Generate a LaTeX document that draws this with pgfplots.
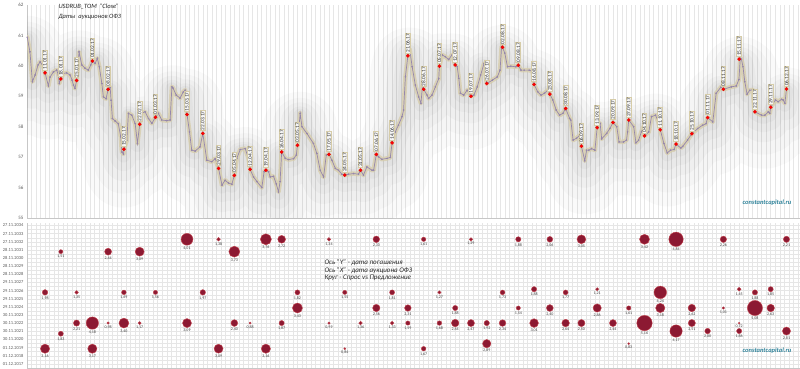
\documentclass[border=0pt]{standalone}
\usepackage{pgfplots}
\pgfplotsset{compat=1.18}
\usepackage{pgfplotstable}
\usepackage{fontspec}
\setmainfont{Carlito}
\definecolor{linec}{RGB}{150,135,172}
\definecolor{glowc}{RGB}{214,204,168}
\definecolor{gridc}{RGB}{230,230,230}
\definecolor{bubf}{RGB}{140,25,50}
\definecolor{bubd}{RGB}{195,65,75}
\definecolor{tealc}{RGB}{49,132,155}
\definecolor{tickc}{RGB}{89,89,89}

\pgfplotstableread{
d v
3.1 60.94
4.3 60.46
5.4 59.48
6.6 59.70
7.9 60.03
8.8 60.13
10.1 60.00
11 59.77
12.5 59.34
13.2 59.63
14.7 59.80
16.2 59.86
16.9 59.70
17.3 59.42
18 59.57
19.1 59.75
20.6 59.77
22.1 59.70
23.0 59.53
23.6 59.37
24.3 59.26
25 59.52
26.1 60.46
27.3 60.03
28.8 59.92
30.2 59.86
31.3 60.03
32 60.16
33.2 60.08
34.2 60.25
35.1 59.97
36.2 59.42
36.9 58.98
38.1 58.92
39 59.23
39.9 59.30
40.3 58.87
40.9 58.27
42.1 58.19
43.5 58.10
44.6 57.67
45.1 57.17
45.8 57.10
46 57.26
47.3 57.56
48.0 58.44
49.5 58.38
51.0 58.10
52.0 57.45
53 58.08
53.9 58.45
55.4 58.49
56.9 58.27
58.4 58.11
60 58.31
61.3 58.44
62.8 58.22
65.0 58.20
66.5 58.22
67.3 59.31
67.8 59.27
69.2 59.04
70.9 58.94
72.3 59.14
73.2 59.20
74 58.40
75.1 57.83
76.1 57.23
77.6 57.20
79.8 57.34
81 57.78
82.8 56.90
85.0 56.85
86.5 56.95
88 56.63
89.5 56.08
90.9 56.24
92.4 56.15
93.9 56.11
95 56.40
96.1 56.96
97.6 57.25
99.8 57.28
101.3 56.96
102 56.60
103.5 56.35
105.0 56.20
107.2 56.00
108.2 56.52
109 56.57
110.2 56.52
110.9 56.35
112.4 56.37
113.6 56.12
114.6 55.86
115.3 56.20
116 57.17
117.6 56.96
119.0 56.92
121.3 56.95
122.5 57.07
123 57.39
124.2 58.44
125.0 58.00
127.2 57.78
130.1 57.45
131.6 57.12
133.1 56.57
134.6 56.35
135.8 57.07
137 57.09
138.3 56.90
139.8 56.63
141.2 56.57
142.7 56.44
144 56.41
145.7 56.44
147.9 56.46
150.1 56.44
151 56.57
152.3 56.41
153.8 56.68
156.1 56.57
156.8 56.57
158 57.09
159.0 57.01
160.5 56.93
162.8 56.96
164.2 56.99
165 57.47
166.4 57.83
167.8 58.05
169.4 58.33
170.1 58.55
170.9 59.64
172 60.33
172.8 60.55
173.9 59.97
175.3 59.37
176.8 58.98
177.8 58.77
178.7 59.53
179 59.23
180.5 59.04
181.2 58.93
182.7 59.04
184.2 59.31
185.7 59.58
186 59.99
187.2 60.36
188.6 60.30
190.1 60.21
191.6 60.36
193 60.03
193.9 59.97
194.6 59.59
195.3 59.10
196.8 59.04
198.3 59.20
200 59.00
201.3 59.04
202.8 59.31
204.3 59.70
205.8 60.08
207 59.42
209.5 59.53
211.7 59.64
212.9 59.86
213.6 60.63
214 60.61
215.0 60.42
216.2 59.97
217.7 59.99
219.9 59.97
221 60.02
222.2 59.86
223.6 59.86
225.8 59.86
227.4 59.81
228 59.39
229.6 59.15
231.1 59.04
232.6 59.10
234.1 59.20
235 59.07
236.3 58.88
237.8 58.55
239.3 58.38
240.8 58.44
241.6 58.55
242 58.60
243.8 58.27
244.3 58.22
245.3 57.56
246.8 57.62
248.3 57.72
249 57.36
250.5 56.88
251.3 57.23
252.3 57.23
253.5 57.28
255.0 57.23
256 57.97
257.3 58.11
258.0 57.60
260.2 57.78
261.7 57.95
263 58.14
264.7 58.00
265.7 57.50
267.7 57.50
269.0 57.56
269.5 57.83
270 58.22
272.2 58.00
273.2 57.47
274.4 57.56
275.6 57.83
276.5 58.00
277 57.70
278.9 57.83
280.1 58.33
281.9 58.38
283.1 58.16
284 57.90
285.6 57.45
287.1 57.14
288.6 57.23
290.1 57.25
291 57.43
293.1 57.30
293.9 57.35
296.1 57.56
298 57.77
300.6 57.94
302.8 58.05
304.3 58.10
305 58.30
307.3 58.16
308.8 59.10
311.0 59.31
312 59.23
315.5 59.31
317.7 59.34
318.9 59.55
319.5 60.25
320 60.22
320.7 59.97
321.5 59.48
322.5 59.07
323.7 59.20
325.0 59.21
325.7 58.60
326 58.49
328.9 58.38
330.4 58.38
331.9 58.49
332.6 58.44
333 58.64
335.1 58.88
336.3 58.82
337.8 58.90
338.5 58.88
339.3 58.77
340 59.24
}\linedata

\pgfplotstableread{
d v lab
11 59.77 11.01.17
18 59.57 18.01.17
25 59.52 25.01.17
32 60.16 01.02.17
39 59.23 08.02.17
46 57.26 15.02.17
53 58.08 22.02.17
60 58.31 01.03.17
74 58.40 15.03.17
81 57.78 22.03.17
88 56.63 29.03.17
95 56.40 05.04.17
102 56.60 12.04.17
109 56.57 19.04.17
116 57.17 26.04.17
123 57.39 03.05.17
137 57.09 17.05.17
144 56.41 24.05.17
151 56.57 31.05.17
158 57.09 07.06.17
165 57.47 14.06.17
172 60.33 21.06.17
179 59.23 28.06.17
186 59.99 05.07.17
193 60.03 12.07.17
200 59.00 19.07.17
207 59.42 26.07.17
214 60.61 02.08.17
221 60.02 09.08.17
228 59.39 16.08.17
235 59.07 23.08.17
242 58.60 30.08.17
249 57.36 06.09.17
256 57.97 13.09.17
263 58.14 20.09.17
270 58.22 27.09.17
277 57.70 04.10.17
284 57.90 11.10.17
291 57.43 18.10.17
298 57.77 25.10.17
305 58.30 01.11.17
312 59.23 08.11.17
319 60.22 15.11.17
326 58.49 22.11.17
333 58.64 29.11.17
340 59.24 06.12.17
}\reddata

\pgfplotstableread{
d v s lab
74 15.31 4.01 4,01
88 15.31 1.38 1,38
109 15.31 3.76 3,76
116 15.31 2.72 2,72
137 15.31 1.34 1,34
158 15.31 2.33 2,33
179 15.31 1.61 1,61
200 15.31 1.29 1,29
221 15.31 1.88 1,88
235 15.31 2.06 2,06
249 15.31 3.05 3,05
277 15.31 3.42 3,42
291 15.31 4.84 4,84
312 15.31 2.26 2,26
340 15.31 2.21 2,21
18 13.79 1.51 1,51
39 13.79 2.44 2,44
53 13.79 3.09 3,09
95 13.79 3.73 3,73
228 9.18 1.88 1,88
256 9.18 1.21 1,21
319 9.18 1.45 1,45
333 9.18 1.85 1,85
11 8.79 1.98 1,98
25 8.79 1.35 1,35
46 8.79 1.69 1,69
60 8.79 1.56 1,56
81 8.79 1.97 1,97
123 8.79 1.82 1,82
144 8.79 1.55 1,55
165 8.79 1.81 1,81
186 8.79 1.27 1,27
214 8.79 1.73 1,73
242 8.79 1.77 1,77
284 8.79 4.24 4,24
326 8.79 1.88 1,88
123 6.87 3.43 3,43
158 6.87 2.56 2,56
172 6.87 2.31 2,31
193 6.87 1.88 1,88
221 6.87 1.54 1,54
235 6.87 2.40 2,40
256 6.87 2.86 2,86
270 6.87 1.61 1,61
284 6.87 3.18 3,18
298 6.87 2.62 2,62
312 6.87 1.01 1,01
326 6.87 5.08 5,08
333 6.87 2.63 2,63
25 5.02 2.21 2,21
32 5.02 4.18 4,18
39 5.02 0.98 0,98
46 5.02 3.40 3,40
53 5.02 1.17 1,17
74 5.02 3.09 3,09
95 5.02 2.40 2,40
102 5.02 0.88 0,88
116 5.02 1.87 1,87
137 5.02 0.99 0,99
151 5.02 1.36 1,36
165 5.02 1.33 1,33
172 5.02 1.59 1,59
186 5.02 1.68 1,68
193 5.02 2.64 2,64
200 5.02 2.47 2,47
207 5.02 1.92 1,92
214 5.02 2.34 2,34
228 5.02 3.01 3,01
242 5.02 2.64 2,64
249 5.02 2.50 2,50
263 5.02 2.44 2,44
277 5.02 5.16 5,16
298 5.02 2.51 2,51
319 5.02 0.72 0,72
291 4.04 4.17 4,17
305 4.04 2.00 2,00
319 4.04 1.86 1,86
340 4.04 2.81 2,81
18 3.71 1.83 1,83
207 2.49 2.89 2,89
270 2.49 0.83 0,83
11 1.87 3.16 3,16
32 1.87 3.17 3,17
88 1.87 3.09 3,09
109 1.87 3.16 3,16
144 1.87 0.84 0,84
179 1.87 1.67 1,67
}\bubbles

\begin{document}
\begin{tikzpicture}
\useasboundingbox (0,0) rectangle (800pt,368pt);
% ---------- top panel ----------
\begin{axis}[at={(27pt,150pt)}, anchor=south west, scale only axis,
  width=773pt, height=213pt,
  xmin=3, xmax=346, ymin=55, ymax=62,
  axis x line*=bottom, axis y line*=left,
  axis line style={draw=black!22, line width=0.5pt},
  xtick={3,5,...,345}, xticklabels={},
  xmajorgrids, major x grid style={draw=gridc, line width=0.45pt},
  major tick length=0pt,
  ytick={55,56,...,62},
  yticklabel style={font=\fontsize{5}{6}\selectfont, text=tickc},
  /pgf/number format/assume math mode=true,
]
\addplot[draw=black, opacity=0.018, line width=75pt, line join=round, line cap=round, yshift=-16pt] table[x=d,y=v] {\linedata};
\addplot[draw=black, opacity=0.02, line width=55pt, line join=round, line cap=round, yshift=-12pt] table[x=d,y=v] {\linedata};
\addplot[draw=black, opacity=0.022, line width=38pt, line join=round, line cap=round, yshift=-8pt] table[x=d,y=v] {\linedata};
\addplot[draw=black, opacity=0.025, line width=24pt, line join=round, line cap=round, yshift=-5pt] table[x=d,y=v] {\linedata};
\addplot[draw=black, opacity=0.03, line width=13pt, line join=round, line cap=round, yshift=-2pt] table[x=d,y=v] {\linedata};
\addplot[draw=glowc, opacity=0.75, line width=4.5pt, line join=round, line cap=round] table[x=d,y=v] {\linedata};
\addplot[draw=linec, line width=0.7pt, mark=*, mark size=0.45pt, mark options={fill=linec!80!black, draw=none}] table[x=d,y=v] {\linedata};
\addplot[only marks, mark=*, mark size=1.7pt, mark options={fill=red, draw=red!85!black, line width=0.2pt},
  point meta=explicit symbolic, nodes near coords,
  every node near coord/.style={yshift=2.2pt, rotate=90, anchor=west,
    font=\fontsize{5.3}{6}\selectfont, text=black!80,
    fill=black!4, draw=glowc, line width=0.9pt, inner sep=0.6pt}
  ] table[x=d,y=v,meta=lab] {\reddata};
\end{axis}
% ---------- bubble panel ----------
\begin{axis}[at={(27pt,0pt)}, anchor=south west, scale only axis,
  width=773pt, height=144.9pt,
  xmin=3, xmax=346, ymin=-0.5, ymax=17.3,
  axis x line*=bottom, axis y line*=left,
  axis line style={draw=black!22, line width=0.5pt},
  xtick={3,5,...,345}, xticklabels={},
  xmajorgrids, major x grid style={draw=gridc, line width=0.45pt},
  ytick={0,1,...,17},
  yticklabels={01.12.2017,01.12.2018,01.12.2019,30.11.2020,30.11.2021,30.11.2022,30.11.2023,29.11.2024,29.11.2025,29.11.2026,29.11.2027,28.11.2028,28.11.2029,28.11.2030,28.11.2031,27.11.2032,27.11.2033,27.11.2034},
  minor ytick={0.5,1.5,...,16.5},
  ymajorgrids, yminorgrids,
  major y grid style={draw=gridc, line width=0.45pt},
  minor y grid style={draw=gridc, line width=0.45pt},
  major tick length=0pt, minor tick length=0pt,
  yticklabel style={font=\fontsize{4.5}{5}\selectfont, text=tickc},
]
\addplot[scatter, only marks, mark=*,
  point meta=\thisrow{s},
  visualization depends on={1.55*\thisrow{s}-0.3 \as \psize},
  scatter/use mapped color={draw=bubd, fill=bubf},
  scatter/@pre marker code/.append style={/tikz/mark size=\psize, /tikz/line width=0.4pt},
  ] table[x=d,y=v] {\bubbles};
\addplot[draw=none, mark=none, point meta=explicit symbolic, nodes near coords,
  y filter/.expression={y-(1.55*\thisrow{s}+0.6)/8.14},
  every node near coord/.style={anchor=north, font=\fontsize{4}{4.5}\selectfont, text=black!75, inner sep=0.3pt},
  ] table[x=d,y=v,meta=lab] {\bubbles};
\end{axis}
% ---------- texts ----------
\node[anchor=west, font=\fontsize{6.5}{7}\selectfont\itshape, text=black!85] at (55pt,361.3pt) {USDRUB\_TOM~~"Close"};
\node[anchor=west, font=\fontsize{6.5}{7}\selectfont\itshape, text=black!85] at (55pt,351.3pt) {Даты~~аукционов ОФЗ};
\node[anchor=west, font=\fontsize{7}{8}\selectfont\itshape, text=black!85] at (321pt,105.3pt) {Ось "Y" - дата погашения};
\node[anchor=west, font=\fontsize{7}{8}\selectfont\itshape, text=black!85] at (321pt,97.3pt) {Ось "X" - дата аукциона ОФЗ};
\node[anchor=west, font=\fontsize{7}{8}\selectfont\itshape, text=black!85] at (321pt,89.7pt) {Круг - Спрос vs Предложение};
\node[anchor=west, font=\fontsize{6.5}{7}\selectfont\bfseries\itshape, text=tealc] at (739pt,165pt) {constantcapital.ru};
\node[anchor=west, font=\fontsize{6.5}{7}\selectfont\bfseries\itshape, text=tealc] at (739pt,17pt) {constantcapital.ru};
\end{tikzpicture}
\end{document}
